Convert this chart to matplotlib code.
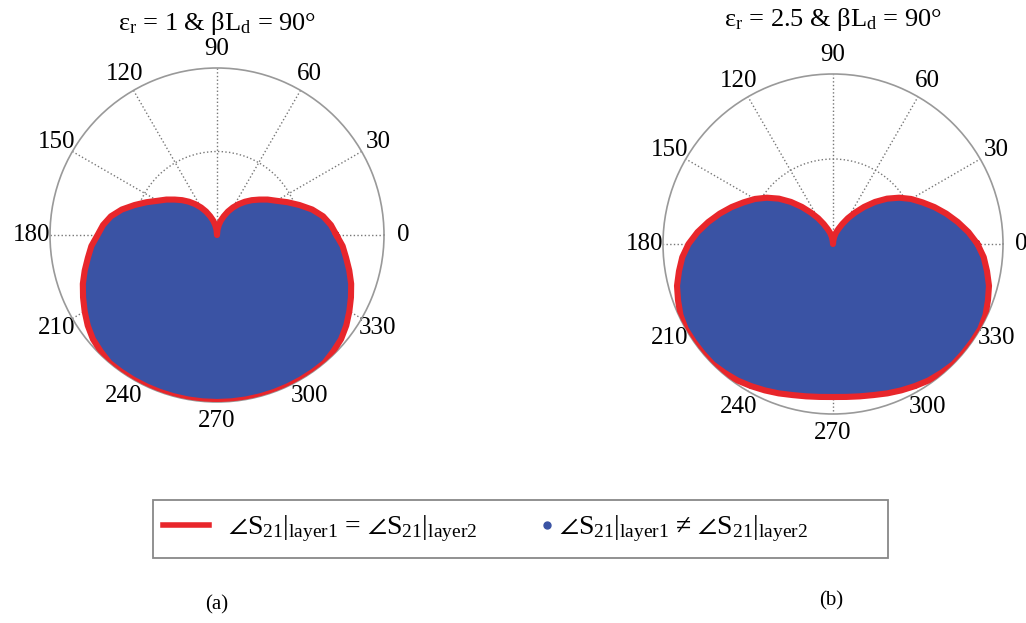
import numpy as np
import matplotlib
matplotlib.use("Agg")
import matplotlib.pyplot as plt
from matplotlib.lines import Line2D
from matplotlib.patches import Rectangle

plt.rcParams['font.family'] = ['Liberation Serif', 'DejaVu Serif']
plt.rcParams['mathtext.fontset'] = 'custom'
plt.rcParams['mathtext.rm'] = 'Liberation Serif'
plt.rcParams['mathtext.it'] = 'Liberation Serif:italic'
plt.rcParams['mathtext.fallback'] = 'stix'

# angle (deg, ccw from east) and normalised radius
angles = np.arange(0, 360, 5)
r_a = [0.715, 0.685, 0.645, 0.59, 0.525, 0.465, 0.41, 0.37, 0.33, 0.295,
       0.26, 0.225, 0.19, 0.155, 0.12, 0.09, 0.06, 0.03,
       0.00,
       0.03, 0.06, 0.09, 0.12, 0.155, 0.19, 0.225, 0.26, 0.295,
       0.33, 0.37, 0.41, 0.465, 0.525, 0.59, 0.645, 0.685, 0.715,
       0.755, 0.785, 0.82, 0.855, 0.885, 0.915, 0.945, 0.97, 0.985,
       1.0, 1.0, 1.0, 1.0, 1.0, 1.0, 1.0, 1.0, 1.0, 1.0, 1.0, 1.0, 1.0,
       1.0, 1.0, 1.0, 1.0,
       0.985, 0.97, 0.945, 0.915, 0.885, 0.855, 0.82, 0.785, 0.755]
r_b = [0.85, 0.80, 0.745, 0.69, 0.635, 0.58, 0.53, 0.475, 0.415, 0.35,
       0.285, 0.225, 0.175, 0.13, 0.095, 0.07, 0.045, 0.02,
       0.00,
       0.02, 0.045, 0.07, 0.095, 0.13, 0.175, 0.225, 0.285, 0.35,
       0.415, 0.475, 0.53, 0.58, 0.635, 0.69, 0.745, 0.80, 0.85,
       0.89, 0.92, 0.95, 0.97, 0.99, 1.0, 1.0, 1.0, 1.0,
       0.99, 0.98, 0.965, 0.95, 0.935, 0.92, 0.91, 0.903, 0.90,
       0.903, 0.91, 0.92, 0.935, 0.95, 0.965, 0.98, 0.99,
       1.0, 1.0, 1.0, 1.0, 0.99, 0.97, 0.95, 0.92, 0.89]

tick_angles = np.arange(0, 360, 30)
tick_labels = [str(a) for a in tick_angles]

title_a = 'ε$_\\mathrm{r}$ = 1 & βL$_\\mathrm{d}$ = 90°'
title_b = 'ε$_\\mathrm{r}$ = 2.5 & βL$_\\mathrm{d}$ = 90°'
label_eq = '$\\angle$S$_{21}$|$_{\\mathrm{layer1}}$ = $\\angle$S$_{21}$|$_{\\mathrm{layer2}}$'
label_ne = '$\\angle$S$_{21}$|$_{\\mathrm{layer1}}$ ≠ $\\angle$S$_{21}$|$_{\\mathrm{layer2}}$'

blue = '#3a53a4'
red = '#e8262b'

W, H = 1026, 623
fig = plt.figure(figsize=(W / 100, H / 100), dpi=100)


def polar_axes(cx, cy, R):
    return fig.add_axes([(cx - R) / W, (H - cy - R) / H, 2 * R / W, 2 * R / H],
                        projection='polar')


def draw(ax, r, title, ty):
    th = np.deg2rad(np.append(angles, angles[0]))
    rr = np.append(r, r[0])
    ax.fill(th, rr, color=blue, zorder=2)
    ax.plot(th, rr, color=red, lw=4.4, zorder=3)
    ax.set_ylim(0, 1)
    ax.set_rticks([0.5])
    ax.set_yticklabels([])
    ax.set_thetagrids(tick_angles, tick_labels, fontsize=18)
    ax.grid(True, ls=':', color='#777777', lw=1)
    ax.spines['polar'].set_color('#999999')
    ax.spines['polar'].set_linewidth(1.2)
    ax.tick_params(pad=3)
    ax.set_title(title, fontsize=19, y=ty, pad=0)


ax1 = polar_axes(217, 235, 167)
draw(ax1, r_a, title_a, 1.113)
ax2 = polar_axes(833, 244, 170)
draw(ax2, r_b, title_b, 1.14)

# legend frame spanning both panels
fig.add_artist(Rectangle((153 / W, 1 - 558 / H), 735 / W, 58 / H,
                         transform=fig.transFigure, fill=False,
                         edgecolor='#888888', lw=1.3))
leg1 = fig.legend([Line2D([], [], color=red, lw=4)], [label_eq],
                  loc='center left', bbox_to_anchor=(163 / W, 1 - 529 / H),
                  frameon=False, fontsize=20, handlelength=1.65,
                  handletextpad=0.7, borderpad=0, borderaxespad=0)
leg2 = fig.legend([Line2D([], [], ls='none', marker='o', ms=5, color=blue)],
                  [label_ne], loc='center left',
                  bbox_to_anchor=(540 / W, 1 - 529 / H),
                  frameon=False, fontsize=20, handlelength=0.5,
                  handletextpad=0.2, borderpad=0, borderaxespad=0)

fig.text(217 / W, 1 - 605 / H, '(a)', fontsize=15, ha='center', va='center')
fig.text(831 / W, 1 - 601 / H, '(b)', fontsize=15, ha='center', va='center')

fig.savefig('out.png', dpi=100)
